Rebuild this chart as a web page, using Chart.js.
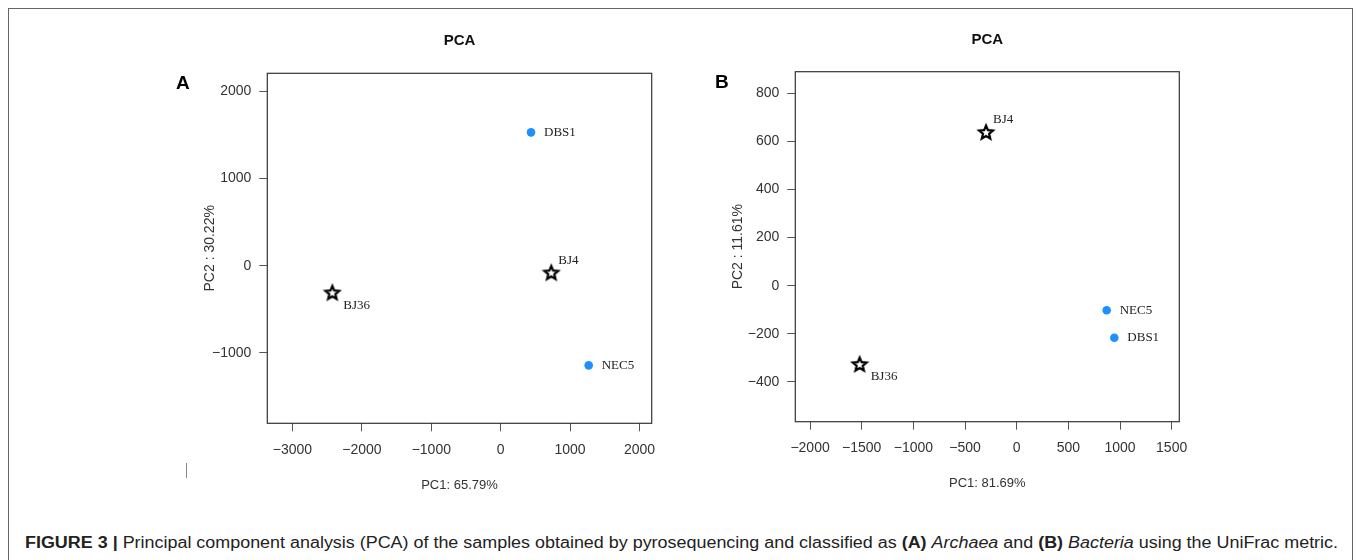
<!DOCTYPE html>
<html>
<head>
<meta charset="utf-8">
<script src="https://cdn.jsdelivr.net/npm/chart.js@4"></script>
<style>
  html,body{margin:0;padding:0;background:#fff;}
  body{width:1357px;height:560px;position:relative;overflow:hidden;font-family:"Liberation Sans",Arial,sans-serif;}
  #frame{position:absolute;left:8px;top:8px;width:1345px;height:600px;border:1.5px solid #666;box-sizing:border-box;}
  canvas{position:absolute;}
  .letter{position:absolute;font:bold 19px "Liberation Sans",Arial,sans-serif;color:#000;line-height:1;}
  #tick{position:absolute;left:186px;top:463px;width:1px;height:15px;background:#888;}
  #caption{position:absolute;left:25px;top:532px;white-space:nowrap;font:16px "Liberation Sans Narrow","Liberation Sans",Arial,sans-serif;color:#222;transform-origin:0 0;line-height:22px;}
  #caption b{font-weight:bold;}
</style>
</head>
<body>
<div id="frame"></div>
<div id="tick"></div>
<canvas id="cA"></canvas>
<canvas id="cB"></canvas>
<div class="letter" style="left:176px;top:73px;">A</div>
<div class="letter" style="left:715px;top:72px;">B</div>
<div id="caption"><b>FIGURE 3 |</b> Principal component analysis (PCA) of the samples obtained by pyrosequencing and classified as <b>(A)</b> <i>Archaea</i> and <b>(B)</b> <i>Bacteria</i> using the UniFrac metric.</div>
<script>
// ---------- Panel A (Archaea) ----------
const samplesA = ['DBS1', 'NEC5', 'BJ4', 'BJ36'];
const pc1A = [437, 1268, 729, -2426];
const pc2A = [1531, -1144, -76, -305];
const shapeA = ['dot', 'dot', 'star', 'star'];
const labelPlaceA = ['right', 'right', 'upright', 'downright'];
const xTicksA = [-3000, -2000, -1000, 0, 1000, 2000];
const yTicksA = [-1000, 0, 1000, 2000];
const xRangeA = [-3363, 2176];
const yRangeA = [-1809, 2209];
const titleA = 'PCA';
const xTitleA = 'PC1: 65.79%';
const yTitleA = 'PC2 : 30.22%';

// ---------- Panel B (Bacteria) ----------
const samplesB = ['BJ4', 'BJ36', 'NEC5', 'DBS1'];
const pc1B = [-297, -1520, 871, 945];
const pc2B = [639, -325, -102, -216];
const shapeB = ['star', 'star', 'dot', 'dot'];
const labelPlaceB = ['upright', 'downright', 'right', 'right'];
const xTicksB = [-2000, -1500, -1000, -500, 0, 500, 1000, 1500];
const yTicksB = [-400, -200, 0, 200, 400, 600, 800];
const xRangeB = [-2143, 1574];
const yRangeB = [-565, 889];
const titleB = 'PCA';
const xTitleB = 'PC1: 81.69%';
const yTitleB = 'PC2 : 11.61%';

// star marker (outlined pentagram)
function makeStar() {
  const c = document.createElement('canvas');
  const s = 20; c.width = s; c.height = s;
  const g = c.getContext('2d');
  const R = 7.2, r = 3.2, cx = s / 2, cy = s / 2 + 0.8;
  g.beginPath();
  for (let i = 0; i < 10; i++) {
    const rad = i % 2 === 0 ? R : r;
    const a = -Math.PI / 2 + i * Math.PI / 5;
    const px = cx + rad * Math.cos(a), py = cy + rad * Math.sin(a);
    i === 0 ? g.moveTo(px, py) : g.lineTo(px, py);
  }
  g.closePath();
  g.fillStyle = '#fff'; g.fill();
  g.lineWidth = 2.2; g.lineJoin = 'miter'; g.strokeStyle = '#000'; g.stroke();
  return c;
}
const starImg = makeStar();
const BLUE = '#1E90FF';

function fmt(v) { return String(v).replace('-', '\u2212'); }

const panelPlugin = {
  id: 'panelDeco',
  afterDatasetsDraw(chart, args, opts) {
    const ctx = chart.ctx, a = chart.chartArea;
    const xs = chart.scales.x, ys = chart.scales.y;
    ctx.save();
    // box
    ctx.strokeStyle = '#333'; ctx.lineWidth = 1.2;
    ctx.strokeRect(a.left, a.top, a.right - a.left, a.bottom - a.top);
    // point labels
    ctx.font = '13px "Liberation Serif","Times New Roman",serif';
    ctx.fillStyle = '#222'; ctx.textAlign = 'left'; ctx.textBaseline = 'middle';
    opts.names.forEach((n, i) => {
      const px = xs.getPixelForValue(opts.xv[i]), py = ys.getPixelForValue(opts.yv[i]);
      const place = opts.places[i];
      let dx = 13, dy = 0;
      if (place === 'upright') { dx = 7; dy = -12; }
      if (place === 'downright') { dx = 11; dy = 13; }
      ctx.fillText(n, px + dx, py + dy);
    });
    // title
    ctx.textAlign = 'center';
    ctx.font = 'bold 15px "Liberation Sans",Arial,sans-serif';
    ctx.fillStyle = '#111';
    ctx.fillText(opts.title, (a.left + a.right) / 2, a.top - 32);
    // axis titles
    ctx.font = '13px "Liberation Sans",Arial,sans-serif';
    ctx.fillStyle = '#333';
    ctx.fillText(opts.xTitle, (a.left + a.right) / 2, a.bottom + 62);
    ctx.font = '14px "Liberation Sans",Arial,sans-serif';
    ctx.translate(a.left - 57, (a.top + a.bottom) / 2);
    ctx.rotate(-Math.PI / 2);
    ctx.fillText(opts.yTitle, 0, 0);
    ctx.restore();
  }
};

function buildPanel(id, cfg) {
  const el = document.getElementById(id);
  el.style.left = cfg.left + 'px'; el.style.top = cfg.top + 'px';
  const idx = cfg.shape.map((s, i) => i);
  const dots = idx.filter(i => cfg.shape[i] === 'dot').map(i => ({x: cfg.xv[i], y: cfg.yv[i]}));
  const stars = idx.filter(i => cfg.shape[i] === 'star').map(i => ({x: cfg.xv[i], y: cfg.yv[i]}));
  const axisCommon = {
    grid: {display: true, drawOnChartArea: false, drawTicks: true, tickLength: 8, color: '#555', lineWidth: 1},
    border: {display: false},
  };
  const tickFont = {family: '"Liberation Sans",Arial,sans-serif', size: 14};
  new Chart(el, {
    type: 'scatter',
    data: {datasets: [
      {data: dots, pointStyle: 'circle', pointRadius: 4.3, pointHoverRadius: 4.3, backgroundColor: BLUE, borderColor: BLUE, borderWidth: 0},
      {data: stars, pointStyle: starImg, pointRadius: 10}
    ]},
    options: {
      responsive: false, animation: false, devicePixelRatio: 1,
      layout: {padding: cfg.pad},
      plugins: {legend: {display: false}, tooltip: {enabled: false}, title: {display: false},
        panelDeco: {names: cfg.names, xv: cfg.xv, yv: cfg.yv, places: cfg.places, title: cfg.title, xTitle: cfg.xTitle, yTitle: cfg.yTitle}},
      scales: {
        x: Object.assign({}, axisCommon, {
          type: 'linear', min: cfg.xRange[0], max: cfg.xRange[1],
          afterBuildTicks: s => { s.ticks = cfg.xTicks.map(v => ({value: v})); },
          afterFit: s => { s.height = 40; },
          ticks: {callback: fmt, color: '#333', padding: 10, maxRotation: 0, autoSkip: false, font: tickFont}
        }),
        y: Object.assign({}, axisCommon, {
          type: 'linear', min: cfg.yRange[0], max: cfg.yRange[1],
          afterBuildTicks: s => { s.ticks = cfg.yTicks.map(v => ({value: v})); },
          afterFit: s => { s.width = cfg.yw; },
          ticks: {callback: fmt, color: '#333', padding: 8, autoSkip: false, font: tickFont}
        })
      }
    },
    plugins: [panelPlugin]
  });
}

// canvas sizes
const cvA = document.getElementById('cA'); cvA.width = 530; cvA.height = 490;
const cvB = document.getElementById('cB'); cvB.width = 530; cvB.height = 490;

buildPanel('cA', {
  left: 150, top: 20, names: samplesA, xv: pc1A, yv: pc2A, shape: shapeA, places: labelPlaceA,
  xTicks: xTicksA, yTicks: yTicksA, xRange: xRangeA, yRange: yRangeA,
  title: titleA, xTitle: xTitleA, yTitle: yTitleA,
  yw: 117.3, pad: {left: 0, right: 28.3, top: 53.3, bottom: 46.7}
});
buildPanel('cB', {
  left: 690, top: 20, names: samplesB, xv: pc1B, yv: pc2B, shape: shapeB, places: labelPlaceB,
  xTicks: xTicksB, yTicks: yTicksB, xRange: xRangeB, yRange: yRangeB,
  title: titleB, xTitle: xTitleB, yTitle: yTitleB,
  yw: 105.3, pad: {left: 0, right: 40.7, top: 51.7, bottom: 48.3}
});

// fit caption width
const cap = document.getElementById('caption');
const w = cap.getBoundingClientRect().width;
cap.style.transform = 'scaleX(' + (1313 / w) + ')';
</script>
</body>
</html>
